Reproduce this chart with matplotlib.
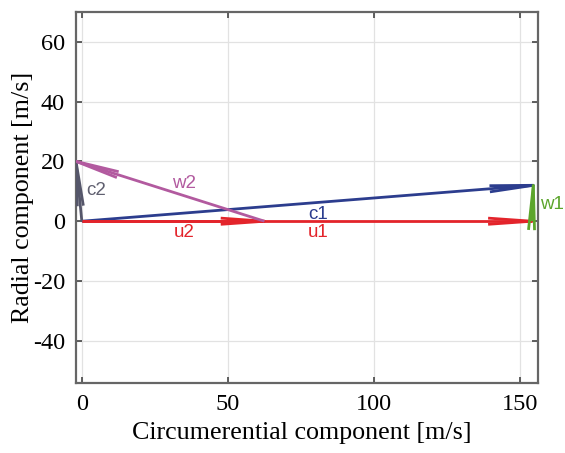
import numpy as np
import matplotlib
matplotlib.use("Agg")
import matplotlib.pyplot as plt

plt.rcParams["axes.unicode_minus"] = False

# velocity vectors (start point + components) [m/s]
names = ["c1", "u1", "w1", "c2", "u2", "w2"]
x0 = [0, 0, 154, 0, 0, 62.5]
y0 = [0, 0, 0, 0, 0, 0]
dx = [154.5, 154, 0.5, -2, 62.5, -64.5]
dy = [12, 0, 12, 20, 0, 20]

colors = {"c1": "#2c3d8e", "u1": "#e3242b", "w1": "#5ca52c",
          "c2": "#55566a", "u2": "#e3242b", "w2": "#b25a9f"}
label_pos = {"c1": (81, 2.3), "u1": (81, -3.8), "w1": (160.8, 5.7),
             "c2": (5, 10.4), "u2": (35, -3.8), "w2": (35, 12.7)}
label_col = {"c1": "#2c3d8e", "u1": "#e3242b", "w1": "#5ca52c",
             "c2": "#606070", "u2": "#e3242b", "w2": "#b25a9f"}

xticks = [0, 50, 100, 150]
yticks = [-40, -20, 0, 20, 40, 60]

head_len = 14.5
head_w = 1.0

fig = plt.figure(figsize=(5.65, 4.53), dpi=100)
ax = fig.add_axes([0.1345, 0.155, 0.8172, 0.819])

for i, n in enumerate(names):
    xs, ys = x0[i], y0[i]
    xt, yt = xs + dx[i], ys + dy[i]
    L = np.hypot(dx[i], dy[i])
    d = np.array([dx[i], dy[i]]) / L
    p = np.array([-d[1], d[0]])
    base = np.array([xt, yt]) - head_len * d
    h1 = base + head_w * p
    h2 = base - head_w * p
    c = colors[n]
    ax.plot([xs, xt], [ys, yt], color=c, lw=2.0, solid_capstyle="butt", zorder=3)
    ax.plot([h1[0], xt, h2[0]], [h1[1], yt, h2[1]], color=c, lw=2.0, zorder=3)
    ax.text(label_pos[n][0], label_pos[n][1], n, color=label_col[n],
            fontsize=13.5, family="Liberation Sans", ha="center", va="center",
            clip_on=False)

ax.set_xlim(-2, 156)
ax.set_ylim(-54, 70)
ax.set_xticks(xticks)
ax.set_yticks(yticks)
ax.grid(True, color="#e2e2e2", lw=0.9)
ax.set_axisbelow(True)
for s in ax.spines.values():
    s.set_color("#666666")
    s.set_linewidth(1.6)
ax.tick_params(direction="in", top=True, right=True, length=4, width=1.2,
               color="#444444", labelsize=17.5, pad=8)
for lab in ax.get_xticklabels() + ax.get_yticklabels():
    lab.set_family("Liberation Serif")

ax.set_xlabel("Circumerential component [m/s]", fontsize=18.7,
              family="Liberation Serif")
ax.set_ylabel("Radial component [m/s]", fontsize=18.7,
              family="Liberation Serif")
ax.xaxis.set_label_coords(0.49, -0.105)
ax.yaxis.set_label_coords(-0.092, 0.5)

fig.savefig("out.png", dpi=100)
